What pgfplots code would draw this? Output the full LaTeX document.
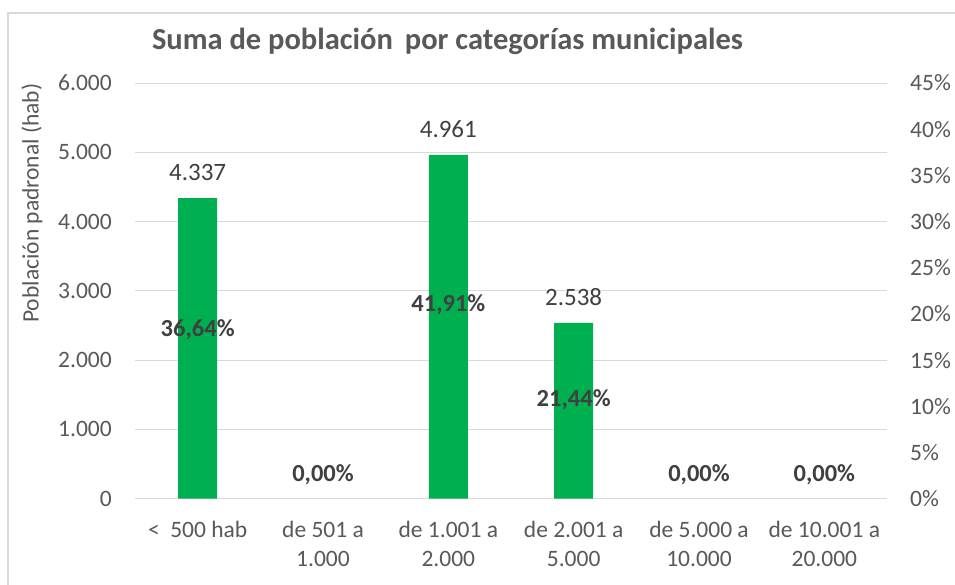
\documentclass[border=0pt]{standalone}
\usepackage{pgfplots}
\pgfplotsset{compat=1.18}
\usepackage{fontspec}
\setmainfont{Carlito}
\definecolor{bargreen}{HTML}{00B050}
\definecolor{gridgray}{HTML}{D9D9D9}
\definecolor{ticktext}{HTML}{595959}
\definecolor{labeltext}{HTML}{404040}
\begin{document}
\begin{tikzpicture}
\useasboundingbox (0,0) rectangle (955pt,584pt);
\fill[white] (0,0) rectangle (955pt,584pt);
\draw[gridgray, line width=1.5pt] (8pt,-10pt) -- (8pt,571pt) -- (970pt,571pt);
\begin{axis}[
  at={(135pt,85.3pt)}, anchor=south west,
  width=752pt, height=415.7pt, scale only axis,
  xmin=-0.5, xmax=5.5, ymin=0, ymax=6000,
  axis line style={draw=none},
  ymajorgrids, grid style={gridgray, line width=1pt},
  xtick={0,1,2,3,4,5},
  xticklabels={{<\ \ 500 hab},{de 501 a\\1.000},{de 1.001 a\\2.000},{de 2.001 a\\5.000},{de 5.000 a\\10.000},{de 10.001 a\\20.000}},
  xticklabel style={align=center, inner sep=0pt, anchor=north, yshift=-22pt, text=ticktext, font=\fontsize{23.5}{29}\selectfont},
  ytick={0,1000,2000,3000,4000,5000,6000},
  yticklabels={0,1.000,2.000,3.000,4.000,5.000,6.000},
  yticklabel style={inner sep=0pt, anchor=east, xshift=-23pt, text=ticktext, font=\fontsize{23.5}{27}\selectfont},
  major tick length=0pt,
  tick style={draw=none},
  ylabel={Población padronal (hab)},
  ylabel style={at={(axis description cs:-0.137,0.711)}, anchor=center, text=ticktext, font=\fontsize{23.5}{27}\selectfont},
]
\addplot[ybar, bar width=39pt, fill=bargreen, draw=none] coordinates {
  (0,4337) (2,4961) (3,2538)
};
\addplot[draw=none, mark=none, nodes near coords,
  point meta=explicit symbolic,
  nodes near coords style={anchor=center, yshift=26pt, text=labeltext, font=\fontsize{25}{29}\selectfont}]
  coordinates {
  (0,4337) [4.337] (2,4961) [4.961] (3,2538) [2.538]
};
\end{axis}
\begin{axis}[
  at={(135pt,85.3pt)}, anchor=south west,
  width=752pt, height=415.7pt, scale only axis,
  xmin=-0.5, xmax=5.5, ymin=0, ymax=45,
  axis y line*=right, hide x axis,
  axis line style={draw=none},
  ytick={0,5,10,15,20,25,30,35,40,45},
  yticklabels={0\%,5\%,10\%,15\%,20\%,25\%,30\%,35\%,40\%,45\%},
  yticklabel style={inner sep=0pt, anchor=west, xshift=23pt, text=ticktext, font=\fontsize{23.5}{27}\selectfont},
  major tick length=0pt,
  tick style={draw=none},
]
\addplot[draw=none, mark=none, nodes near coords,
  point meta=explicit symbolic,
  nodes near coords style={anchor=center, text=labeltext, font=\bfseries\fontsize{24.5}{28}\selectfont}]
  coordinates {
  (0,18.32) [36,64\%] (1,2.57) [0,00\%] (2,20.955) [41,91\%] (3,10.72) [21,44\%] (4,2.57) [0,00\%] (5,2.57) [0,00\%]
};
\end{axis}
\node[text=ticktext, font=\bfseries\fontsize{30.5}{36}\selectfont] at (447.5pt,543pt) {Suma de población\, por categorías municipales};
\end{tikzpicture}
\end{document}
